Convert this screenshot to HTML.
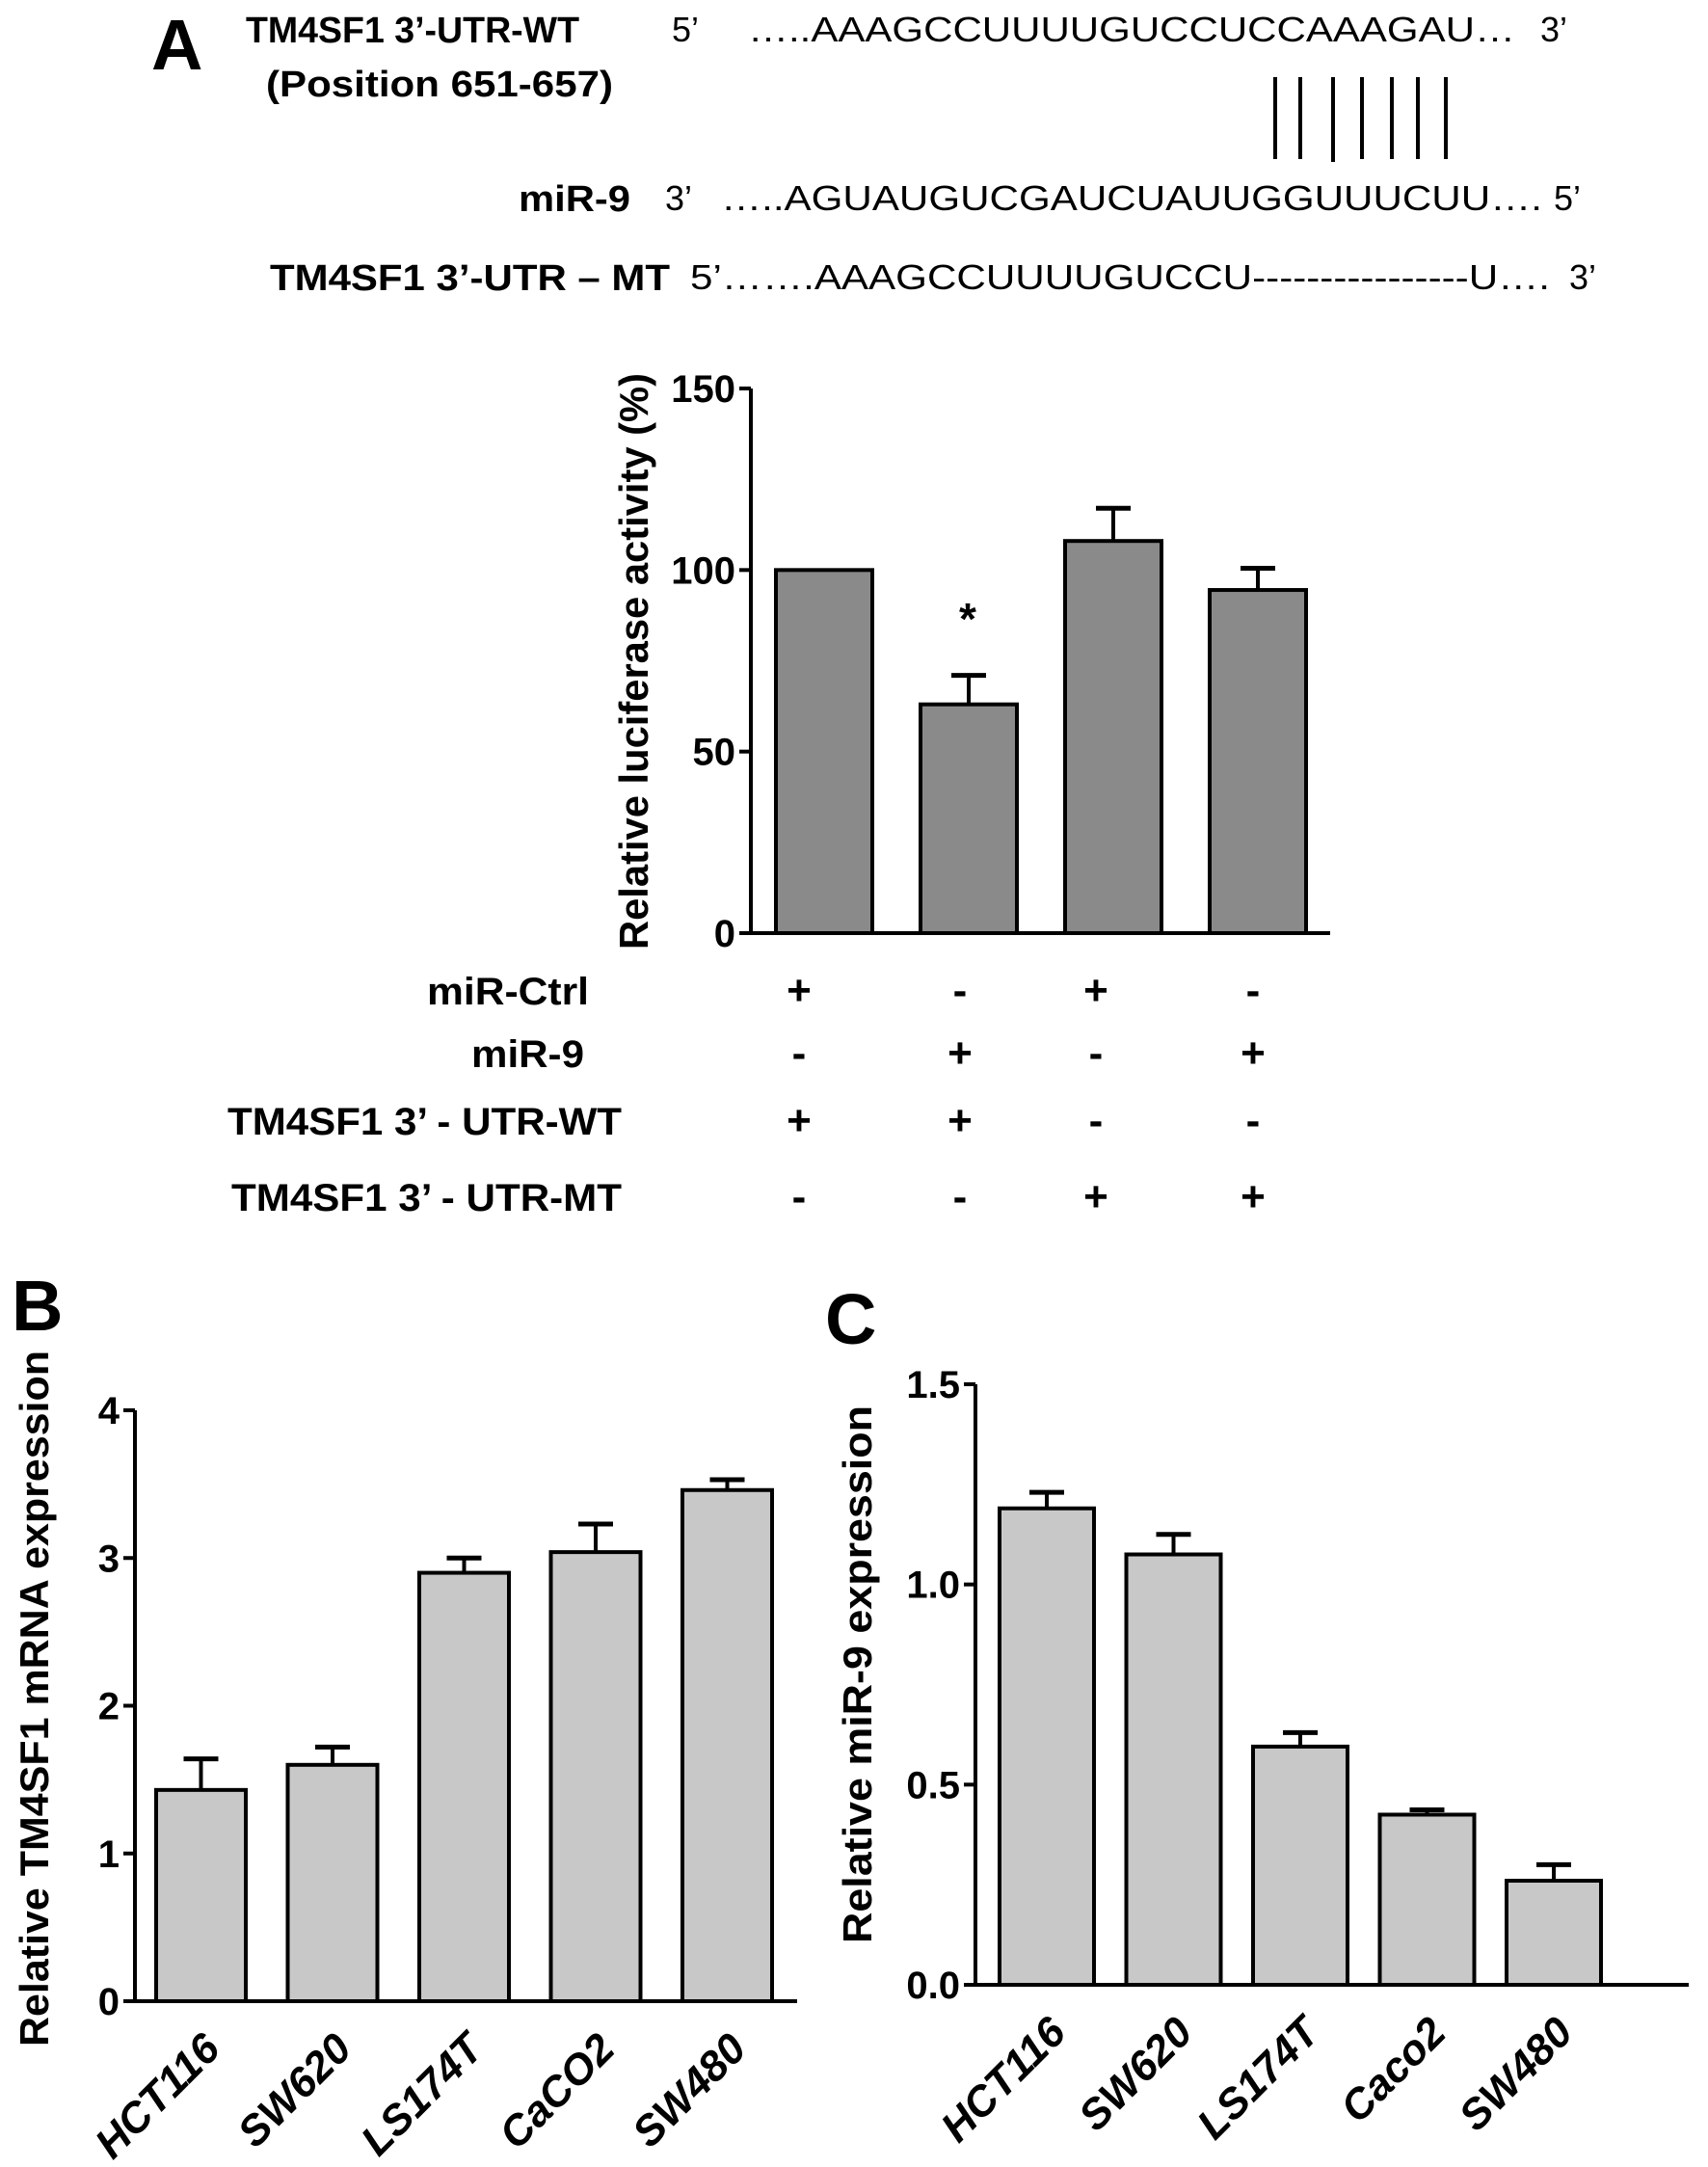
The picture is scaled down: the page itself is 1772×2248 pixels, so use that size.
<!DOCTYPE html>
<html><head><meta charset="utf-8"><style>
html,body{margin:0;padding:0;background:#fff}
svg{display:block}
text{font-family:"Liberation Sans Narrow","Liberation Sans",sans-serif;font-weight:bold;fill:#000}
.seq{font-family:"Liberation Sans Narrow","Liberation Sans",sans-serif;font-weight:normal}
</style></head><body>
<svg id="fig" width="1772" height="2248" viewBox="0 0 1772 2248" xmlns="http://www.w3.org/2000/svg">
<g>
<text x="157" y="72" font-size="74">A</text>
<text x="255" y="44" font-size="38" textLength="346" lengthAdjust="spacingAndGlyphs">TM4SF1 3’-UTR-WT</text>
<text x="276" y="100" font-size="38" textLength="360" lengthAdjust="spacingAndGlyphs">(Position 651-657)</text>
<text class="seq" x="697" y="43" font-size="36">5’</text>
<text class="seq" x="776" y="43" font-size="36" textLength="796" lengthAdjust="spacingAndGlyphs">…..AAAGCCUUUUGUCCUCCAAAGAU…</text>
<text class="seq" x="1598" y="43" font-size="36">3’</text>
<g stroke="#000" stroke-width="4">
<line x1="1323" y1="80" x2="1323" y2="165"/><line x1="1349" y1="80" x2="1349" y2="165"/><line x1="1383" y1="80" x2="1383" y2="168"/><line x1="1413" y1="80" x2="1413" y2="165"/><line x1="1444" y1="80" x2="1444" y2="165"/><line x1="1471" y1="80" x2="1471" y2="165"/><line x1="1500" y1="80" x2="1500" y2="165"/>
</g>
<text x="538" y="219" font-size="38" textLength="116" lengthAdjust="spacingAndGlyphs">miR-9</text>
<text class="seq" x="690" y="218" font-size="36">3’</text>
<text class="seq" x="748" y="218" font-size="36" textLength="852" lengthAdjust="spacingAndGlyphs">…..AGUAUGUCGAUCUAUUGGUUUCUU….</text>
<text class="seq" x="1612" y="218" font-size="36">5’</text>
<text x="280" y="301" font-size="38" textLength="415" lengthAdjust="spacingAndGlyphs">TM4SF1 3’-UTR – MT</text>
<text class="seq" x="716" y="300" font-size="36" textLength="892" lengthAdjust="spacingAndGlyphs">5’…….AAAGCCUUUUGUCCU----------------U….</text>
<text class="seq" x="1628" y="300" font-size="36">3’</text>
</g>
<g id="chartA"></g>
<g id="tableA"></g>
<text x="12" y="1380" font-size="74">B</text>
<g id="chartB"></g>
<text x="856" y="1394" font-size="74">C</text>
<g id="chartC"></g>
</svg>
<script>
const aCategories = ["1","2","3","4"];
const aValues = [100, 63, 108, 94.5];
const aErrors = [0, 8, 9, 6];
const aTicks = [0, 50, 100, 150];
const bCategories = ["HCT116","SW620","LS174T","CaCO2","SW480"];
const bValues = [1.43, 1.6, 2.9, 3.04, 3.46];
const bErrors = [0.21, 0.12, 0.1, 0.19, 0.07];
const bTicks = [0, 1, 2, 3, 4];
const bTickLabels = ["0","1","2","3","4"];
const cCategories = ["HCT116","SW620","LS174T","Caco2","SW480"];
const cValues = [1.19, 1.075, 0.595, 0.425, 0.26];
const cErrors = [0.04, 0.05, 0.035, 0.012, 0.04];
const cTicks = [0, 0.5, 1.0, 1.5];
const cTickLabels = ["0.0","0.5","1.0","1.5"];
const rowLabels = ["miR-Ctrl","miR-9","TM4SF1 3’ - UTR-WT","TM4SF1 3’ - UTR-MT"];
const rowSigns = [["+","-","+","-"],["-","+","-","+"],["+","+","-","-"],["-","-","+","+"]];

const NS="http://www.w3.org/2000/svg";
function mk(tag, attrs, parent){const e=document.createElementNS(NS,tag);for(const k in attrs)e.setAttribute(k,attrs[k]);parent.appendChild(e);return e;}

function drawChart(g, o){
  const y = v => o.y0 - (v - o.min)/(o.max - o.min)*(o.y0 - o.yTop);
  const x = i => o.x0 + o.first + i*o.step;
  o.vals.forEach((v,i)=>{
    const xl = x(i);
    if(o.errs[i]>0){
      const cx = xl + o.bw/2;
      const ln = mk('line',{x1:cx,y1:y(v),x2:cx,y2:y(v+o.errs[i]),stroke:'#000','stroke-width':4},g);
      
      
      const cap = mk('line',{x1:cx-18,y1:y(v+o.errs[i]),x2:cx+18,y2:y(v+o.errs[i]),stroke:'#000','stroke-width':5},g);
      
      
    }
    const r = mk('rect',{x:xl,y:y(v),width:o.bw,height:o.y0-y(v),fill:o.fill,stroke:'#000','stroke-width':4},g);
    
    
    if(o.xlabels){
      const t = mk('text',{x:0,y:0,'font-size':44,'font-style':'italic','text-anchor':'end',transform:`translate(${xl+o.bw/2+22},${o.y0+52}) rotate(-45)`},g);
      t.textContent=o.cats[i];
      
      
    }
  });
  const ax = mk('line',{x1:o.x0,y1:o.yTop,x2:o.x0,y2:o.y0+2,stroke:'#000','stroke-width':4},g);
  
  
  const xa = mk('line',{x1:o.x0-2,y1:o.y0,x2:o.xEnd,y2:o.y0,stroke:'#000','stroke-width':4},g);
  
  
  o.ticks.forEach((tv,i)=>{
    const tk = mk('line',{x1:o.x0-12,y1:y(tv),x2:o.x0,y2:y(tv),stroke:'#000','stroke-width':4},g);
    
    
    const t = mk('text',{x:o.x0-16,y:y(tv)+14,'font-size':40,'text-anchor':'end'},g);
    t.textContent = o.tickLabels[i];
    
    
  });
  const yt = mk('text',{x:0,y:0,'font-size':42,'text-anchor':'middle',textLength:o.titleLen,lengthAdjust:'spacingAndGlyphs',transform:`translate(${o.titleX},${o.titleY}) rotate(-90)`},g);
  yt.textContent = o.title;
  
  
}

drawChart(document.getElementById('chartA'),{vals:aValues,errs:aErrors,cats:['ctrl-wt','mir9-wt','ctrl-mt','mir9-mt'],ticks:aTicks,tickLabels:aTicks.map(String),min:0,max:150,x0:779,y0:968,yTop:403,xEnd:1380,first:26,step:150,bw:100,fill:'#8a8a8a',xlabels:false,title:'Relative luciferase activity (%)',titleLen:598,titleX:672,titleY:686});
drawChart(document.getElementById('chartB'),{vals:bValues,errs:bErrors,cats:bCategories,ticks:bTicks,tickLabels:bTickLabels,min:0,max:4,x0:140,y0:2076,yTop:1463,xEnd:827,first:22,step:136.5,bw:93,fill:'#c8c8c8',xlabels:true,title:'Relative TM4SF1 mRNA expression',titleLen:722,titleX:50,titleY:1762});
drawChart(document.getElementById('chartC'),{vals:cValues,errs:cErrors,cats:cCategories,ticks:cTicks,tickLabels:cTickLabels,min:0,max:1.5,x0:1012,y0:2059,yTop:1436,xEnd:1752,first:25,step:131.5,bw:98,fill:'#c8c8c8',xlabels:true,title:'Relative miR-9 expression',titleLen:558,titleX:904,titleY:1737});

const star = document.createElementNS(NS,'text');
star.setAttribute('x',1004);star.setAttribute('y',658);star.setAttribute('font-size',46);star.setAttribute('text-anchor','middle');
star.textContent='*';


document.getElementById('chartA').appendChild(star);

const tg = document.getElementById('tableA');
const rowY = [1042, 1107, 1177, 1256];
const labelLeft = [443, 489, 236, 240];
const labelLen = [168, 117, 409, 405];
const colX = [829, 996, 1137, 1300];
rowLabels.forEach((lab,r)=>{
  const t = mk('text',{x:labelLeft[r],y:rowY[r],'font-size':40,textLength:labelLen[r],lengthAdjust:'spacingAndGlyphs'},tg);
  t.textContent = lab;
  
  
  rowSigns[r].forEach((s,c)=>{
    const st = mk('text',{x:colX[c],y:rowY[r],'font-size':44,'text-anchor':'middle'},tg);
    st.textContent = s;
    
    
  });
});
</script>
</body></html>
